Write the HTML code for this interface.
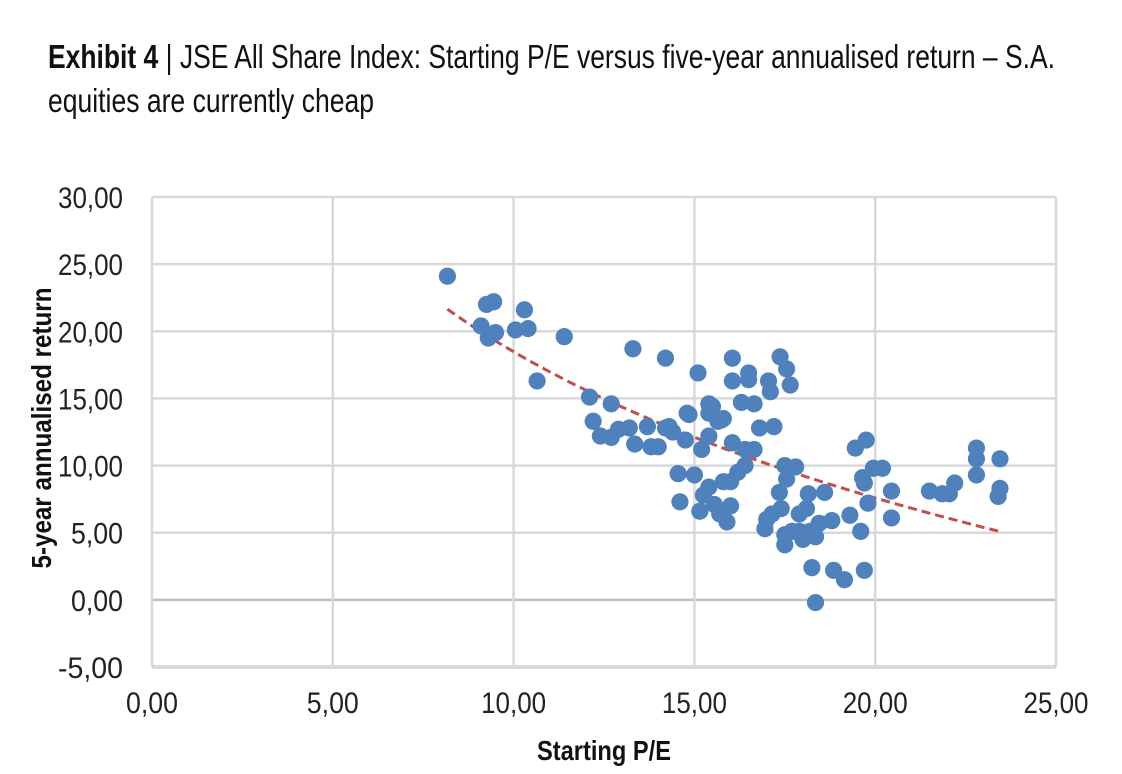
<!DOCTYPE html>
<html><head><meta charset="utf-8"><style>
html,body{margin:0;padding:0;background:#fff;}
svg{display:block;font-family:"Liberation Sans Narrow","Liberation Sans",sans-serif;}
</style></head><body>
<svg id="chart" width="1122" height="774" viewBox="0 0 1122 774" xmlns="http://www.w3.org/2000/svg">
<text x="48" y="68" font-size="33" fill="#111" textLength="1007" lengthAdjust="spacingAndGlyphs"><tspan font-weight="bold">Exhibit 4</tspan> | JSE All Share Index: Starting P/E versus five-year annualised return – S.A.</text>
<text x="48" y="112" font-size="33" fill="#111" textLength="326" lengthAdjust="spacingAndGlyphs">equities are currently cheap</text>
<g id="grid"></g>
<g id="axes"></g>
<g id="trend"></g>
<g id="points"></g>
<text x="604" y="760" font-size="28" font-weight="bold" text-anchor="middle" fill="#111" textLength="134" lengthAdjust="spacingAndGlyphs">Starting P/E</text>
<text transform="translate(51,428) rotate(-90)" font-size="28" font-weight="bold" text-anchor="middle" fill="#111" textLength="281" lengthAdjust="spacingAndGlyphs">5-year annualised return</text>
</svg>
<script>
const xTicks = [0,5,10,15,20,25];
const yTicks = [-5,0,5,10,15,20,25,30];
const tickLabels = v => v.toFixed(2).replace('.', ',');
const peValues = [8.17,9.25,9.45,9.1,9.3,9.5,10.05,10.4,10.3,11.4,10.65,12.1,12.7,12.2,12.4,12.7,12.9,13.2,13.35,13.7,13.8,14.0,14.2,14.4,13.3,14.2,14.8,14.75,15.0,15.1,14.55,14.6,15.15,15.2,15.4,15.5,15.4,15.65,15.8,16.05,16.5,17.37,17.55,17.65,16.05,16.5,17.05,17.1,16.3,16.65,15.4,14.85,15.75,14.3,16.05,16.4,16.65,16.8,17.2,17.5,17.8,17.55,17.35,18.15,18.6,19.45,19.75,19.65,19.7,19.95,20.2,20.45,20.45,19.8,21.5,21.85,22.05,22.2,22.8,22.8,22.8,23.45,23.45,23.4,15.4,15.8,16.0,15.25,15.55,16.0,15.7,15.9,16.2,16.4,17.0,16.95,17.4,17.15,17.9,18.1,17.5,17.5,17.9,18.0,18.35,18.45,18.8,19.3,19.6,18.25,18.85,19.15,19.7,18.35,18.2,17.7];
const returnValues = [24.1,22.0,22.2,20.4,19.5,19.9,20.1,20.2,21.6,19.6,16.3,15.1,14.6,13.3,12.2,12.1,12.7,12.8,11.6,12.9,11.4,11.4,12.8,12.5,18.7,18.0,13.9,11.9,9.3,16.9,9.4,7.3,6.6,11.2,13.9,14.4,12.2,13.3,13.5,18.0,16.9,18.1,17.2,16.0,16.3,16.4,16.3,15.5,14.7,14.6,14.6,13.8,13.4,12.9,11.7,11.2,11.2,12.8,12.9,10.0,9.9,9.0,8.0,7.9,8.0,11.3,11.9,9.1,8.7,9.8,9.8,8.1,6.1,7.2,8.1,7.9,7.9,8.7,11.3,10.5,9.3,10.5,8.3,7.7,8.4,8.8,8.8,7.8,7.1,7.0,6.4,5.8,9.5,10.0,6.0,5.3,6.8,6.4,6.4,6.8,4.85,4.1,5.1,4.5,4.7,5.7,5.9,6.3,5.1,2.4,2.2,1.5,2.2,-0.2,5.1,5.1];

const L=152,R=1056,T=197,B=667;
const xs = v => L + (v - 0) / 25 * (R - L);
const ys = v => B - (v + 5) / 35 * (B - T);
const NS='http://www.w3.org/2000/svg';
function mk(tag, attrs, parent){const e=document.createElementNS(NS,tag);for(const k in attrs)e.setAttribute(k,attrs[k]);parent.appendChild(e);return e;}
const grid=document.getElementById('grid'), axes=document.getElementById('axes');
const lblW = s => s.length*13;
yTicks.forEach(v=>{
  const ln=mk('line',{x1:L,x2:R,y1:ys(v),y2:ys(v),stroke:v===0?'#bfbfbf':'#d9d9d9','stroke-width':v===-5?4:2.5},grid);
  
  
  const s=tickLabels(v);
  const t=mk('text',{x:123,y:ys(v)+11,'font-size':30,'text-anchor':'end',fill:'#222',textLength:lblW(s),lengthAdjust:'spacingAndGlyphs'},axes);
  
  
  t.textContent=s;
});
xTicks.forEach(v=>{
  const ln=mk('line',{x1:xs(v),x2:xs(v),y1:T,y2:B,stroke:'#d9d9d9','stroke-width':2.5},grid);
  
  
  const s=tickLabels(v);
  const t=mk('text',{x:xs(v),y:713,'font-size':30,'text-anchor':'middle',fill:'#222',textLength:lblW(s),lengthAdjust:'spacingAndGlyphs'},axes);
  
  
  t.textContent=s;
});
let n=peValues.length,sx=0,sy=0,sxx=0,sxy=0;
for(let i=0;i<n;i++){const lx=Math.log(peValues[i]);sx+=lx;sy+=returnValues[i];sxx+=lx*lx;sxy+=lx*returnValues[i];}
const b=(n*sxy-sx*sy)/(n*sxx-sx*sx), a=(sy-b*sx)/n;
const xmin=Math.min(...peValues), xmax=Math.max(...peValues);
let d='';
for(let i=0;i<=60;i++){const x=xmin+(xmax-xmin)*i/60;const y=a+b*Math.log(x);d+=(i?'L':'M')+xs(x).toFixed(1)+','+ys(y).toFixed(1);}
const tl=mk('path',{d:d,fill:'none',stroke:'#c0504d','stroke-width':3,'stroke-dasharray':'9,5'},document.getElementById('trend'));


const pg=document.getElementById('points');
for(let i=0;i<n;i++){
  const c=mk('circle',{cx:xs(peValues[i]),cy:ys(returnValues[i]),r:8.6,fill:'#4f81bd'},pg);
  
  
}
</script>
</body></html>
